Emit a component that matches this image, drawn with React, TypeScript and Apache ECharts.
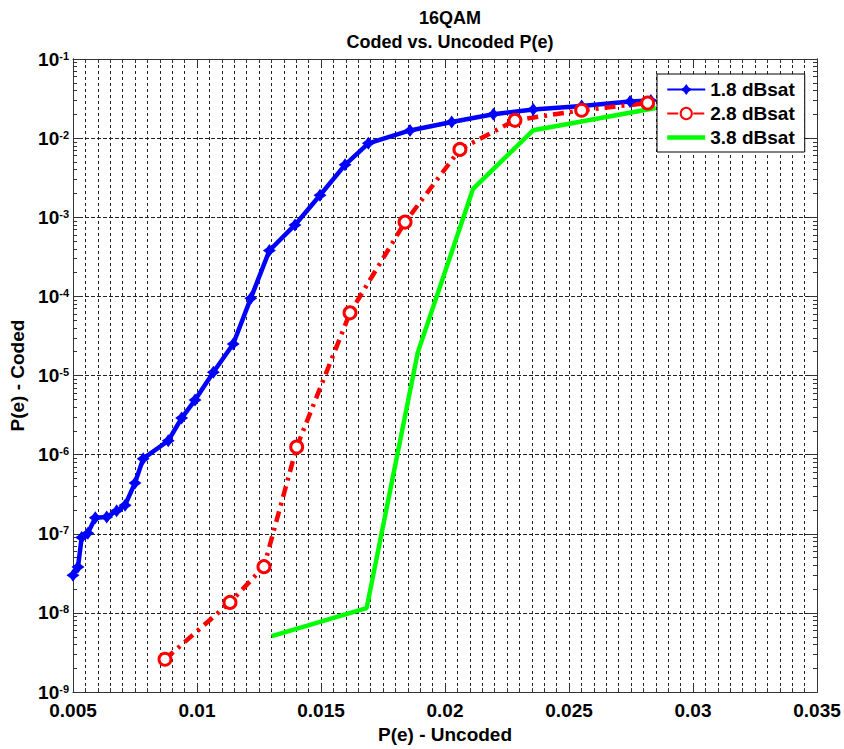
import React, { useEffect, useRef } from "react";
import * as echarts from "echarts";

// ---- data ----
const blueX = [0.005, 0.0052, 0.00535, 0.0056, 0.0059, 0.00636, 0.00676, 0.0071, 0.0075, 0.00783, 0.00884, 0.00938, 0.00992, 0.01066, 0.01146, 0.01217, 0.01292, 0.01395, 0.01496, 0.01597, 0.01691, 0.01859, 0.02027, 0.02195, 0.02356, 0.02551, 0.02746, 0.0283];
const blueY = [3.0e-8, 3.8e-8, 9.0e-8, 1.02e-7, 1.6e-7, 1.63e-7, 1.95e-7, 2.3e-7, 4.4e-7, 8.9e-7, 1.5e-6, 2.9e-6, 4.9e-6, 1.1e-5, 2.5e-5, 9.5e-5, 3.8e-4, 8.0e-4, 1.9e-3, 4.6e-3, 8.6e-3, 1.25e-2, 1.6e-2, 2.0e-2, 2.3e-2, 2.55e-2, 2.9e-2, 3.0e-2];

const redX = [0.00871, 0.01133, 0.0127, 0.01402, 0.01617, 0.01839, 0.0206, 0.02282, 0.02551, 0.02817];
const redY = [2.6e-9, 1.36e-8, 3.85e-8, 1.25e-6, 6.2e-5, 8.7e-4, 7.2e-3, 1.68e-2, 2.25e-2, 2.78e-2];

const greenX = [0.01301, 0.01684, 0.0189, 0.02113, 0.02356, 0.0285];
const greenY = [5.1e-9, 1.15e-8, 1.95e-5, 2.28e-3, 1.26e-2, 2.4e-2];

const seriesNames = ["1.8 dBsat", "2.8 dBsat", "3.8 dBsat"];
const xTickLabels = ["0.005", "0.01", "0.015", "0.02", "0.025", "0.03", "0.035"];
const yDecades = [-9, -8, -7, -6, -5, -4, -3, -2, -1];
const minorMantissas = [2, 3, 4, 5, 6, 7, 8, 9];

const FONT = "'Liberation Sans', Arial, sans-serif";
const STAR = "path://M0,-10 L4.2,-4.2 L10,0 L4.2,4.2 L0,10 L-4.2,4.2 L-10,0 L-4.2,-4.2 Z";

const yMinorValues: number[] = [];
yDecades.slice(0, -1).forEach((e) => minorMantissas.forEach((m) => yMinorValues.push(m * Math.pow(10, e))));

const X_MIN = 0.005, X_MAX = 0.035, X_STEP = 0.005;
const Y_MIN = 1e-9, Y_MAX = 1e-1;

export default function App() {
  const ref = useRef<HTMLDivElement>(null);
  useEffect(() => {
    const chart = echarts.init(ref.current!, null, { renderer: "svg" });
    const axisLine = { show: true, lineStyle: { color: "#333", width: 1 } };
    const xBase = {
      type: "value" as const,
      min: X_MIN,
      max: X_MAX,
      interval: X_STEP,
      axisLine,
    };
    const yBase = {
      type: "log" as const,
      logBase: 10,
      min: Y_MIN,
      max: Y_MAX,
      interval: 1,
      axisLine,
    };
    const option: any = {
      animation: false,
      backgroundColor: "#fff",
      title: {
        text: "16QAM\nCoded vs. Uncoded P(e)",
        left: 445,
        top: 1,
        textAlign: "center",
        textStyle: { fontFamily: FONT, fontWeight: "bold", fontSize: 18, lineHeight: 24, color: "#000" },
      },
      legend: {
        orient: "vertical",
        left: 657,
        top: 74,
        padding: [6, 10, 5, 8],
        itemGap: 5,
        itemWidth: 38,
        itemHeight: 14,
        backgroundColor: "#fff",
        borderColor: "#000",
        borderWidth: 1,
        borderRadius: 0,
        data: [
          { name: seriesNames[0] },
          { name: seriesNames[1] },
          {
            name: seriesNames[2],
            itemStyle: { opacity: 0 },
            lineStyle: { width: 4.5, color: "#00ff00", opacity: 1 },
          },
        ],
        textStyle: { fontFamily: FONT, fontWeight: "bold", fontSize: 19, lineHeight: 19, color: "#000" },
      },
      grid: { left: 73, top: 59, width: 744, height: 638, containLabel: false },
      xAxis: [
        {
          ...xBase,
          position: "bottom",
          name: "P(e) - Uncoded",
          nameLocation: "middle",
          nameGap: 29,
          nameTextStyle: { fontFamily: FONT, fontWeight: "bold", fontSize: 19, color: "#000" },
          axisTick: { show: true, inside: true, length: 8, lineStyle: { color: "#333" } },
          minorTick: { show: true, splitNumber: 10, length: 4, lineStyle: { color: "#333" } },
          axisLabel: {
            margin: 9,
            fontFamily: FONT,
            fontWeight: "bold",
            fontSize: 19,
            lineHeight: 19,
            color: "#000",
            formatter: (v: number) => xTickLabels[Math.round((v - X_MIN) / X_STEP)] ?? "",
          },
          splitLine: { show: true, lineStyle: { color: "#222", width: 1, type: [3, 3] } },
          minorSplitLine: { show: true, lineStyle: { color: "#222", width: 1, type: [3, 3] } },
        },
        {
          ...xBase,
          position: "top",
          axisTick: { show: true, inside: true, length: 8, lineStyle: { color: "#333" } },
          minorTick: { show: true, splitNumber: 10, length: 4, lineStyle: { color: "#333" } },
          axisLabel: { show: false },
          splitLine: { show: false },
        },
      ],
      yAxis: [
        {
          ...yBase,
          position: "left",
          name: "P(e) - Coded",
          nameLocation: "middle",
          nameGap: 45,
          nameTextStyle: { fontFamily: FONT, fontWeight: "bold", fontSize: 19, color: "#000" },
          axisTick: { show: true, inside: true, length: 8, lineStyle: { color: "#333" } },
          axisLabel: {
            margin: 4,
            formatter: (v: number) => `{b|10}{s|${Math.round(Math.log10(v))}}`,
            rich: {
              b: { fontFamily: FONT, fontWeight: "bold", fontSize: 19, lineHeight: 18, color: "#000" },
              s: { fontFamily: FONT, fontWeight: "bold", fontSize: 11, lineHeight: 10, verticalAlign: "top", color: "#000" },
            },
          },
          splitLine: { show: true, lineStyle: { color: "#222", width: 1, type: [4, 2] } },
        },
        {
          ...yBase,
          position: "left",
          axisTick: { show: true, inside: true, length: 4, customValues: yMinorValues, lineStyle: { color: "#333" } },
          axisLabel: { show: false },
          splitLine: { show: false },
        },
        {
          ...yBase,
          position: "right",
          axisTick: { show: true, inside: true, length: 8, lineStyle: { color: "#333" } },
          axisLabel: { show: false },
          splitLine: { show: false },
        },
        {
          ...yBase,
          position: "right",
          axisTick: { show: true, inside: true, length: 4, customValues: yMinorValues, lineStyle: { color: "#333" } },
          axisLabel: { show: false },
          splitLine: { show: false },
        },
      ],
      series: [
        {
          name: seriesNames[0],
          type: "line",
          xAxisIndex: 0,
          yAxisIndex: 0,
          data: blueX.map((x, i) => [x, blueY[i]]),
          symbol: STAR,
          symbolSize: 13,
          lineStyle: { color: "#0000ff", width: 4.5 },
          itemStyle: { color: "#0000ff" },
          emphasis: { disabled: true },
        },
        {
          name: seriesNames[1],
          type: "line",
          xAxisIndex: 0,
          yAxisIndex: 0,
          data: redX.map((x, i) => [x, redY[i]]),
          symbol: "circle",
          symbolSize: 12,
          lineStyle: { color: "#ff0000", width: 4.5, type: [11, 6, 3, 6] },
          itemStyle: { color: "#ffffff", borderColor: "#ff0000", borderWidth: 3 },
          emphasis: { disabled: true },
        },
        {
          name: seriesNames[2],
          type: "line",
          xAxisIndex: 0,
          yAxisIndex: 0,
          data: greenX.map((x, i) => [x, greenY[i]]),
          symbol: "none",
          lineStyle: { color: "#00ff00", width: 4.5 },
          itemStyle: { color: "#00ff00" },
          emphasis: { disabled: true },
        },
      ],
    };
    chart.setOption(option);
    return () => chart.dispose();
  }, []);
  return (
    <div
      ref={ref}
      style={{ position: "fixed", left: 0, top: 0, width: 844, height: 749, background: "#fff" }}
    />
  );
}
